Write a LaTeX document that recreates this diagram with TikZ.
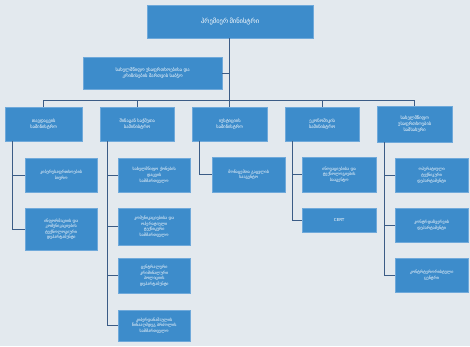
\documentclass[tikz,border=0pt]{standalone}
\usepackage{fontspec}
\newfontfamily\geo{DejaVu Sans}
\definecolor{bgc}{HTML}{E3E9EE}
\definecolor{boxc}{HTML}{3D8CCB}
\definecolor{boxe}{HTML}{6FA9DA}
\definecolor{linec}{HTML}{3B5C86}
\tikzset{
  orgbox/.style={fill=boxc, draw=boxe, line width=0.4pt, anchor=north west, inner sep=1pt,
    align=center, text=white, font=\geo\fontsize{4.1}{5.6}\selectfont},
  conn/.style={draw=linec, line width=0.8pt},
}
\newcommand{\obox}[7]{% name, x1, y1, x2, y2, text, font size
  \pgfmathsetmacro{\bw}{#4-#2}\pgfmathsetmacro{\bh}{#5-#3}%
  \node[orgbox, minimum width=\bw pt, minimum height=\bh pt, text width=\bw pt - 2pt] (#1) at (#2,#3) {#6};}
\begin{document}
\begin{tikzpicture}[x=1pt,y=-1pt]
\fill[bgc] (0,0) rectangle (470,346);
\useasboundingbox (0,0) rectangle (470,346);

\obox{pm}{147}{5}{313}{38}{\fontsize{6.5}{8}\selectfont პრემიერ მინისტრი}{}
\obox{sc}{83}{57}{222}{89}{\fontsize{4.6}{6.2}\selectfont სახელმწიფო უსაფრთხოებისა და\\კრიზისების მართვის საბჭო}{}

\obox{m1}{5}{107}{82}{141}{\fontsize{4.5}{6.3}\selectfont თავდაცვის\\სამინისტრო}{}
\obox{m2}{100}{107}{174}{141}{\fontsize{4.5}{6.3}\selectfont შინაგან საქმეთა\\სამინისტრო}{}
\obox{m3}{192}{107}{267}{141}{\fontsize{4.5}{6.3}\selectfont იუსტიციის\\სამინისტრო}{}
\obox{m4}{285}{107}{359}{141}{\fontsize{4.5}{6.3}\selectfont ეკონომიკის\\სამინისტრო}{}
\obox{m5}{377}{106}{452}{142}{\fontsize{4.5}{6.3}\selectfont სახელმწიფო\\უსაფრთხოების\\სამსახური}{}

\obox{a1}{25}{158}{97}{192}{კიბერუსაფრთხოების\\ბიურო}{}
\obox{a2}{25}{208}{97}{250}{ინფორმაციის და\\კომუნიკაციების\\ტექნოლოგიური\\დეპარტამენტი}{}

\obox{b1}{118}{158}{190}{192}{სახელმწიფო ქონების\\დაცვის\\სამმართველო}{}
\obox{b2}{118}{208}{190}{245}{კომუნიკაციებისა და\\ოპერატიული\\ტექნიკური\\სამმართველო}{}
\obox{b3}{118}{258}{190}{293}{ცენტრალური\\კრიმინალური\\პოლიციის\\დეპარტამენტი}{}
\obox{b4}{118}{310}{190}{341}{კიბერდანაშაულის\\წინააღმდეგ ბრძოლის\\სამმართველო}{}

\obox{c1}{212}{157}{285}{192}{მონაცემთა გაცვლის\\სააგენტო}{}

\obox{d1}{302}{157}{376}{192}{ინოვაციებისა და\\ტექნოლოგიების\\სააგენტო}{}
\obox{d2}{302}{208}{376}{232}{CERT}{}

\obox{e1}{395}{158}{468}{192}{ოპერატიული\\ტექნიკური\\დეპარტამენტი}{}
\obox{e2}{395}{208}{468}{242}{კონტრდაზვერვის\\დეპარტამენტი}{}
\obox{e3}{395}{258}{468}{292}{კონტრტერორისტული\\ცენტრი}{}

% trunk and bus
\coordinate (bus) at (229,100);
\draw[conn] (pm.south -| bus) -- (bus);
\draw[conn] (sc.east) -- (sc.east -| bus);
\draw[conn] (m1.north |- bus) -- (m5.north |- bus);
\foreach \m in {m1,m2,m3,m4,m5} \draw[conn] (\m.north |- bus) -- (\m.north);

% children
\foreach \p/\c in {m1/a1,m1/a2,m2/b1,m2/b2,m2/b3,m2/b4,m3/c1,m4/d1,m4/d2,m5/e1,m5/e2,m5/e3}
  \draw[conn] ([xshift=7pt]\p.south west) |- (\c.west);
\end{tikzpicture}
\end{document}
